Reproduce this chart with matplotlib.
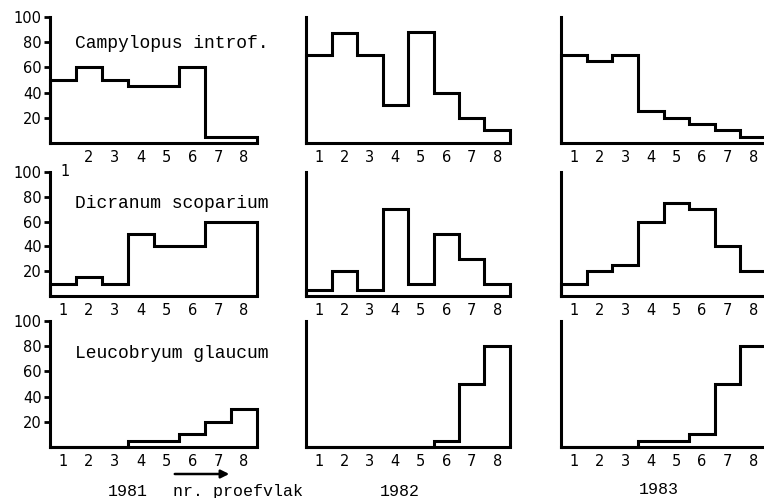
import numpy as np
import matplotlib
matplotlib.use("Agg")
import matplotlib.pyplot as plt

# --- data (percentage cover per plot) ---
plots = [1, 2, 3, 4, 5, 6, 7, 8]
years = ["1981", "1982", "1983"]
species = ["Campylopus introf.", "Dicranum scoparium", "Leucobryum glaucum"]

campylopus_1981 = [50, 60, 50, 45, 45, 60, 5, 5]
campylopus_1982 = [70, 87, 70, 30, 88, 40, 20, 10]
campylopus_1983 = [70, 65, 70, 25, 20, 15, 10, 5]

dicranum_1981 = [10, 15, 10, 50, 40, 40, 60, 60]
dicranum_1982 = [5, 20, 5, 70, 10, 50, 30, 10]
dicranum_1983 = [10, 20, 25, 60, 75, 70, 40, 20]

leucobryum_1981 = [0, 0, 0, 5, 5, 10, 20, 30]
leucobryum_1982 = [0, 0, 0, 0, 0, 5, 50, 80]
leucobryum_1983 = [0, 0, 0, 5, 5, 10, 50, 80]

yticks = [20, 40, 60, 80, 100]

rows = [
    [campylopus_1981, campylopus_1982, campylopus_1983],
    [dicranum_1981, dicranum_1982, dicranum_1983],
    [leucobryum_1981, leucobryum_1982, leucobryum_1983],
]

# --- layout (pixels of the 764x498 figure) ---
W, H = 764, 498
col_x = [(50, 257), (306, 510), (561, 766)]
row_y = [(17, 143), (172, 296), (321, 447)]
label_y = [0.79, 0.75, 0.745]   # species label height inside the first panel

MONO = "Liberation Mono"
fig = plt.figure(figsize=(W / 100, H / 100), dpi=100)
fig.patch.set_facecolor("white")

edges = np.arange(len(plots) + 1) + 0.5

for r, row in enumerate(rows):
    y0, y1 = row_y[r]
    for c, vals in enumerate(row):
        x0, x1 = col_x[c]
        ax = fig.add_axes([x0 / W, 1 - y1 / H, (x1 - x0) / W, (y1 - y0) / H])
        ax.stairs(vals, edges, baseline=0, color="black", lw=2.2, clip_on=False)
        ax.set_xlim(0.5, 8.5)
        ax.set_ylim(0, 100)
        for s in ["top", "right"]:
            ax.spines[s].set_visible(False)
        for s in ["left", "bottom"]:
            ax.spines[s].set_linewidth(2.2)
        ax.set_xticks(plots)
        labels = [str(p) for p in plots]
        if r == 0 and c == 0:
            labels[0] = ""
        ax.set_xticklabels(labels, fontsize=10.5, family="DejaVu Sans")
        ax.tick_params(axis="x", length=0, pad=5)
        if c == 0:
            ax.set_yticks(yticks)
            ax.set_yticklabels([str(v) for v in yticks], fontsize=10.5)
            ax.tick_params(axis="y", length=4, width=2, pad=2)
            ax.text(0.12, label_y[r], species[r], transform=ax.transAxes,
                    family=MONO, fontsize=13, va="center", ha="left")
        else:
            ax.set_yticks([])

# stray "1" of the first panel, as printed in the scan
fig.text(65 / W, 1 - 171 / H, "1", fontsize=10.5, ha="center", va="center")

# bottom labels
fig.text(128 / W, 1 - 491 / H, years[0], family=MONO, fontsize=12, ha="center", va="center")
fig.text(173 / W, 1 - 491 / H, "nr. proefvlak", family=MONO, fontsize=12, ha="left", va="center")
fig.text(400 / W, 1 - 491 / H, years[1], family=MONO, fontsize=12, ha="center", va="center")
fig.text(659 / W, 1 - 489 / H, years[2], family=MONO, fontsize=12, ha="center", va="center")
fig.add_artist(matplotlib.patches.FancyArrowPatch(
    (172 / W, 1 - 474 / H), (232 / W, 1 - 474 / H), transform=fig.transFigure,
    arrowstyle="-|>", mutation_scale=12, color="black", lw=1.8))

fig.savefig("out.png", dpi=100)
